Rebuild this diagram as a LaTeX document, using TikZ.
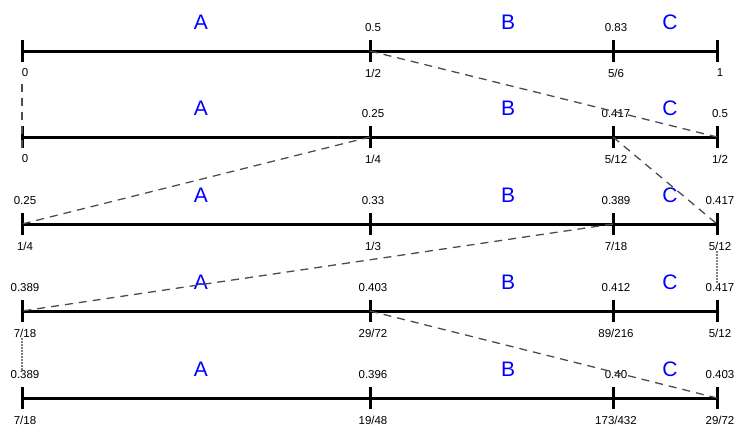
\documentclass[tikz,border=0pt]{standalone}
\usepackage{fontspec}
\setmainfont{Liberation Sans}
\begin{document}
\begin{tikzpicture}[x=1pt,y=-1pt,
  axisline/.style={line width=3pt},
  tickmark/.style={line width=3pt},
  val/.style={font=\fontsize{11.5}{13}\selectfont, inner sep=1pt},
  part/.style={font=\fontsize{21}{24}\selectfont, text=blue, inner sep=0pt},
  link/.style={dashed, dash pattern=on 8pt off 6pt, line width=1.3pt, draw=black!70},
  dotlink/.style={dash pattern=on 1.5pt off 1.5pt, line width=1.2pt, draw=black!50}]
\useasboundingbox (0,0) rectangle (737,426);

% tick positions on the five intervals
\foreach \r/\y in {1/51,2/137,3/224,4/311,5/398}{
  \coordinate (r\r a) at (22,\y);
  \coordinate (r\r b) at (370,\y);
  \coordinate (r\r c) at (613,\y);
  \coordinate (r\r d) at (717,\y);
  \draw[axisline] (r\r a) -- (r\r d);
  \foreach \p in {a,b,c,d}{
    \draw[tickmark] ([yshift=-11pt]r\r\p) -- ([yshift=11pt]r\r\p);
  }
  \node[part] (A\r) at (201,\y-29) {A};
  \node[part] (B\r) at (508,\y-29) {B};
  \node[part] (C\r) at (670,\y-29) {C};
}

% value labels: t = above (decimal), b = below (fraction)
\foreach \r/\y/\ta/\tb/\tc/\td/\ba/\bb/\bc/\bd in {
  1/51/{}/0.5/0.83/{}/0/1\slash 2/5\slash 6/1,
  2/137/{}/0.25/0.417/0.5/0/1\slash 4/5\slash 12/1\slash 2,
  3/224/0.25/0.33/0.389/0.417/1\slash 4/1\slash 3/7\slash 18/5\slash 12,
  4/311/0.389/0.403/0.412/0.417/7\slash 18/29\slash 72/89\slash 216/5\slash 12,
  5/398/0.389/0.396/0.40/0.403/7\slash 18/19\slash 48/173\slash 432/29\slash 72}{
  \node[val] (t\r a) at (25,\y-23) {\ta};
  \node[val] (t\r b) at (373,\y-23) {\tb};
  \node[val] (t\r c) at (616,\y-23) {\tc};
  \node[val] (t\r d) at (720,\y-23) {\td};
  \node[val] (b\r a) at (25,\y+22) {\ba};
  \node[val] (b\r b) at (373,\y+22) {\bb};
  \node[val] (b\r c) at (616,\y+22) {\bc};
  \node[val] (b\r d) at (720,\y+22) {\bd};
}

% connections between successive intervals
\draw[link] ([yshift=-6pt]b1a.south -| r1a) -- ([yshift=-11pt]r2a);
\draw[link] (r1b) -- (r2d);
\draw[link] (r2b) -- (r3a);
\draw[link] (r2c) -- (r3d);
\draw[link] (r3c) -- (r4a);
\draw[dotlink] (b3d.south -| r3d) -- (t4d.north -| r4d);
\draw[dotlink] (b4a.south -| r4a) -- (t5a.north -| r5a);
\draw[link] (r4b) -- (r5d);
\end{tikzpicture}
\end{document}
